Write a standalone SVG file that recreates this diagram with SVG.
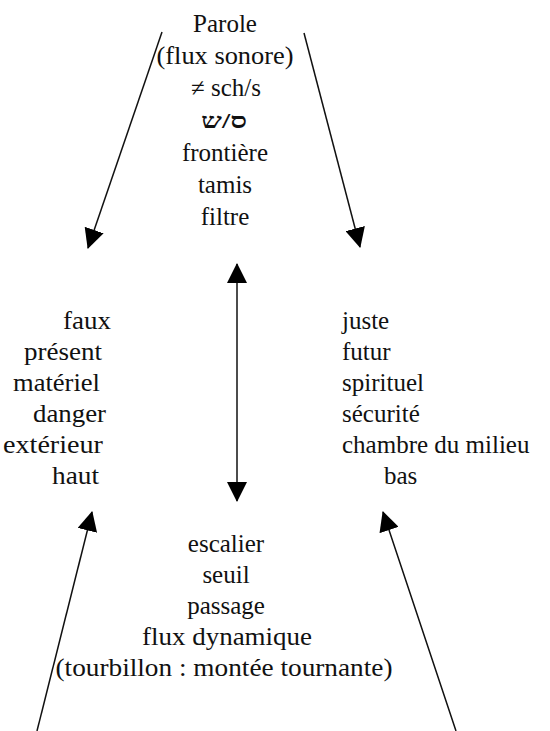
<svg xmlns="http://www.w3.org/2000/svg" width="550" height="731" viewBox="0 0 550 731">
<defs>
<marker id="ah" viewBox="0 0 20 20" refX="19" refY="10" markerWidth="20" markerHeight="20" markerUnits="userSpaceOnUse" orient="auto-start-reverse">
<path d="M0,0 L20,10 L0,20 z" fill="#000"/>
</marker>
</defs>
<g id="connectors" stroke="#111" stroke-width="1.5" fill="none">
<line x1="162" y1="32" x2="88" y2="248" marker-end="url(#ah)"/>
<line x1="304" y1="33" x2="360" y2="247" marker-end="url(#ah)"/>
<line x1="237" y1="264" x2="237" y2="501" marker-start="url(#ah)" marker-end="url(#ah)"/>
<line x1="37" y1="731" x2="92" y2="512" marker-end="url(#ah)"/>
<line x1="456" y1="731" x2="383" y2="512" marker-end="url(#ah)"/>
</g>
<g font-family="Liberation Serif" font-size="25" fill="#111">
<g id="top" text-anchor="middle">
<text x="225" y="32">Parole</text>
<text x="225" y="64" textLength="137" lengthAdjust="spacingAndGlyphs">(flux sonore)</text>
<text x="226" y="96">≠ sch/s</text>
<text x="224" y="128" font-size="21" font-weight="bold" textLength="46" lengthAdjust="spacingAndGlyphs">ס/ש</text>
<text x="225" y="161">frontière</text>
<text x="225" y="193">tamis</text>
<text x="225" y="225">filtre</text>
</g>
<g id="left">
<text x="63" y="329" textLength="48" lengthAdjust="spacingAndGlyphs">faux</text>
<text x="24" y="360" textLength="78" lengthAdjust="spacingAndGlyphs">présent</text>
<text x="13" y="391" textLength="87" lengthAdjust="spacingAndGlyphs">matériel</text>
<text x="33" y="422" textLength="73" lengthAdjust="spacingAndGlyphs">danger</text>
<text x="3" y="453" textLength="100" lengthAdjust="spacingAndGlyphs">extérieur</text>
<text x="52" y="484" textLength="47" lengthAdjust="spacingAndGlyphs">haut</text>
</g>
<g id="right">
<text x="342" y="329">juste</text>
<text x="342" y="360">futur</text>
<text x="342" y="391">spirituel</text>
<text x="342" y="422">sécurité</text>
<text x="342" y="453">chambre du milieu</text>
<text x="384" y="484">bas</text>
</g>
<g id="bottom" text-anchor="middle">
<text x="226" y="552">escalier</text>
<text x="226" y="583">seuil</text>
<text x="226" y="614">passage</text>
<text x="227" y="645" textLength="170" lengthAdjust="spacingAndGlyphs">flux dynamique</text>
<text x="224" y="676" textLength="337" lengthAdjust="spacingAndGlyphs">(tourbillon : montée tournante)</text>
</g>
</g>
</svg>
